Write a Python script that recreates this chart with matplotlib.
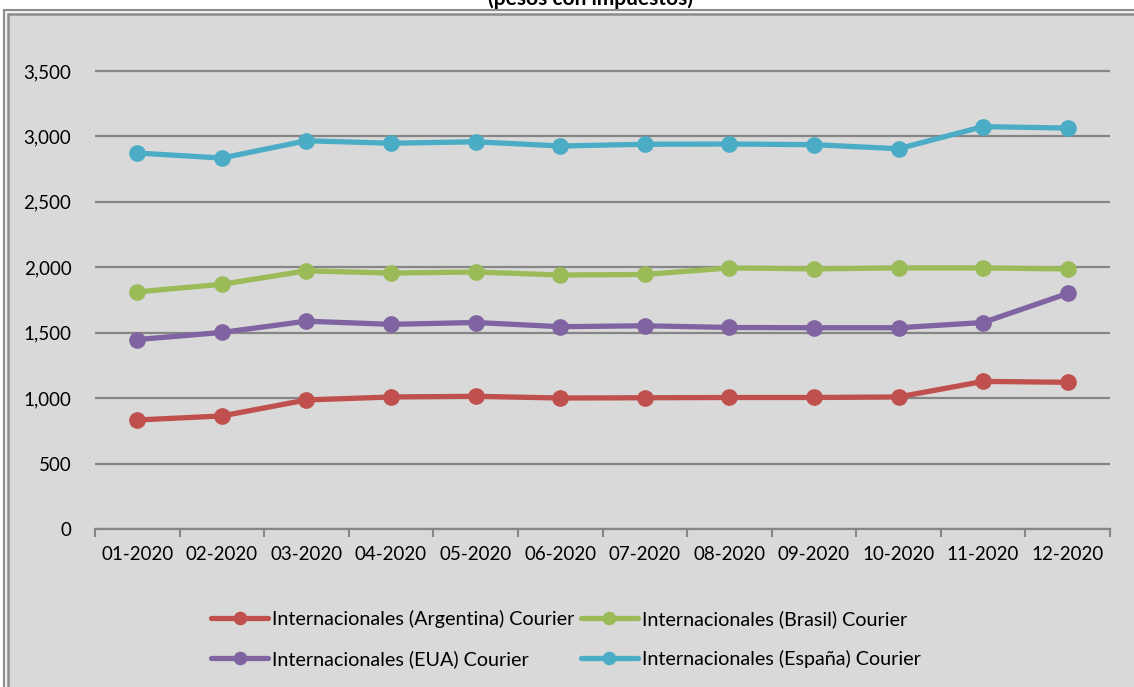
import matplotlib
matplotlib.use("Agg")
import matplotlib.pyplot as plt
from matplotlib.patches import Rectangle
from matplotlib.ticker import FuncFormatter, FixedLocator, NullFormatter

months = ["01-2020", "02-2020", "03-2020", "04-2020", "05-2020", "06-2020",
          "07-2020", "08-2020", "09-2020", "10-2020", "11-2020", "12-2020"]

argentina = [833, 864, 986, 1009, 1014, 1001, 1003, 1005, 1005, 1009, 1128, 1121]
brasil = [1812, 1870, 1973, 1956, 1964, 1941, 1945, 1995, 1988, 1995, 1995, 1987]
eua = [1448, 1502, 1588, 1564, 1578, 1546, 1553, 1540, 1538, 1538, 1578, 1800]
espana = [2873, 2835, 2967, 2948, 2959, 2927, 2940, 2942, 2937, 2906, 3075, 3064]

labels = ["Internacionales (Argentina) Courier", "Internacionales (Brasil) Courier",
          "Internacionales (EUA) Courier", "Internacionales (España) Courier"]
colors = ["#C0504D", "#9BBB59", "#8064A2", "#4BACC6"]
title_visible = "(pesos con impuestos)"

plt.rcParams['font.family'] = ['Lato', 'DejaVu Sans']
BG = "#D9D9D9"
FS = 13.5

W, H = 1134, 687
fig = plt.figure(figsize=(W / 100, H / 100), dpi=100)
fig.patch.set_facecolor("white")

# gray chart area with double border (cropped at right/bottom)
fig.patches.append(Rectangle((4 / W, -0.01), 1, 1 - 10 / H + 0.01, transform=fig.transFigure,
                             facecolor="#F2F2F2", edgecolor="#8C8C8C", lw=1.5, zorder=-2))
fig.patches.append(Rectangle((8 / W, -0.02), 1, 1 - 14 / H + 0.02, transform=fig.transFigure,
                             facecolor=BG, edgecolor="#8C8C8C", lw=1.8, zorder=-1))

fig.text(590 / W, 1 - 5 / H, title_visible, ha="center", va="baseline",
         fontsize=15, fontweight="bold", color="black")

left, right = 95 / W, 1110 / W
bottom, top = 1 - 529 / H, 1 - 20 / H
ax = fig.add_axes([left, bottom, right - left, top - bottom])
ax.set_facecolor("none")
ax.set_zorder(2)

x = list(range(len(months)))
series = [argentina, brasil, eua, espana]
handles = []
for s, c, lab in zip(series, colors, labels):
    h, = ax.plot(x, s, color=c, lw=3.8, marker="o", markersize=11, label=lab,
                 solid_capstyle="round", zorder=3)
    handles.append(h)

ax.set_xlim(-0.5, len(months) - 0.5)
ymax = 3500 * (529 - 20) / 458
ax.set_ylim(0, ymax)
ax.set_yticks([0, 500, 1000, 1500, 2000, 2500, 3000, 3500])
ax.yaxis.set_major_formatter(FuncFormatter(lambda v, p: f"{int(v):,}"))
ax.grid(axis="y", color="#868686", lw=1.6, zorder=1)
ax.set_axisbelow(True)

ax.set_xticks(x)
ax.set_xticklabels(months)
ax.xaxis.set_minor_locator(FixedLocator([i - 0.5 for i in range(len(months) + 1)]))
ax.xaxis.set_minor_formatter(NullFormatter())
ax.tick_params(axis="x", which="major", length=0, pad=12, labelsize=FS)
ax.tick_params(axis="x", which="minor", length=6, width=1.5, color="#868686", direction="out")
ax.tick_params(axis="y", length=0, pad=17, labelsize=FS)

for sp in ["top", "right", "left"]:
    ax.spines[sp].set_visible(False)
ax.spines["bottom"].set_color("#868686")
ax.spines["bottom"].set_linewidth(1.6)

order = [0, 2, 1, 3]
leg = fig.legend([handles[i] for i in order], [labels[i] for i in order],
                 loc="center", bbox_to_anchor=(566 / W, 1 - 639 / H), ncol=2,
                 frameon=False, fontsize=14.2, handlelength=2.9, handletextpad=0.2,
                 columnspacing=0.3, labelspacing=1.15, markerscale=0.8)

fig.savefig("out.png", dpi=100, facecolor=fig.get_facecolor())
